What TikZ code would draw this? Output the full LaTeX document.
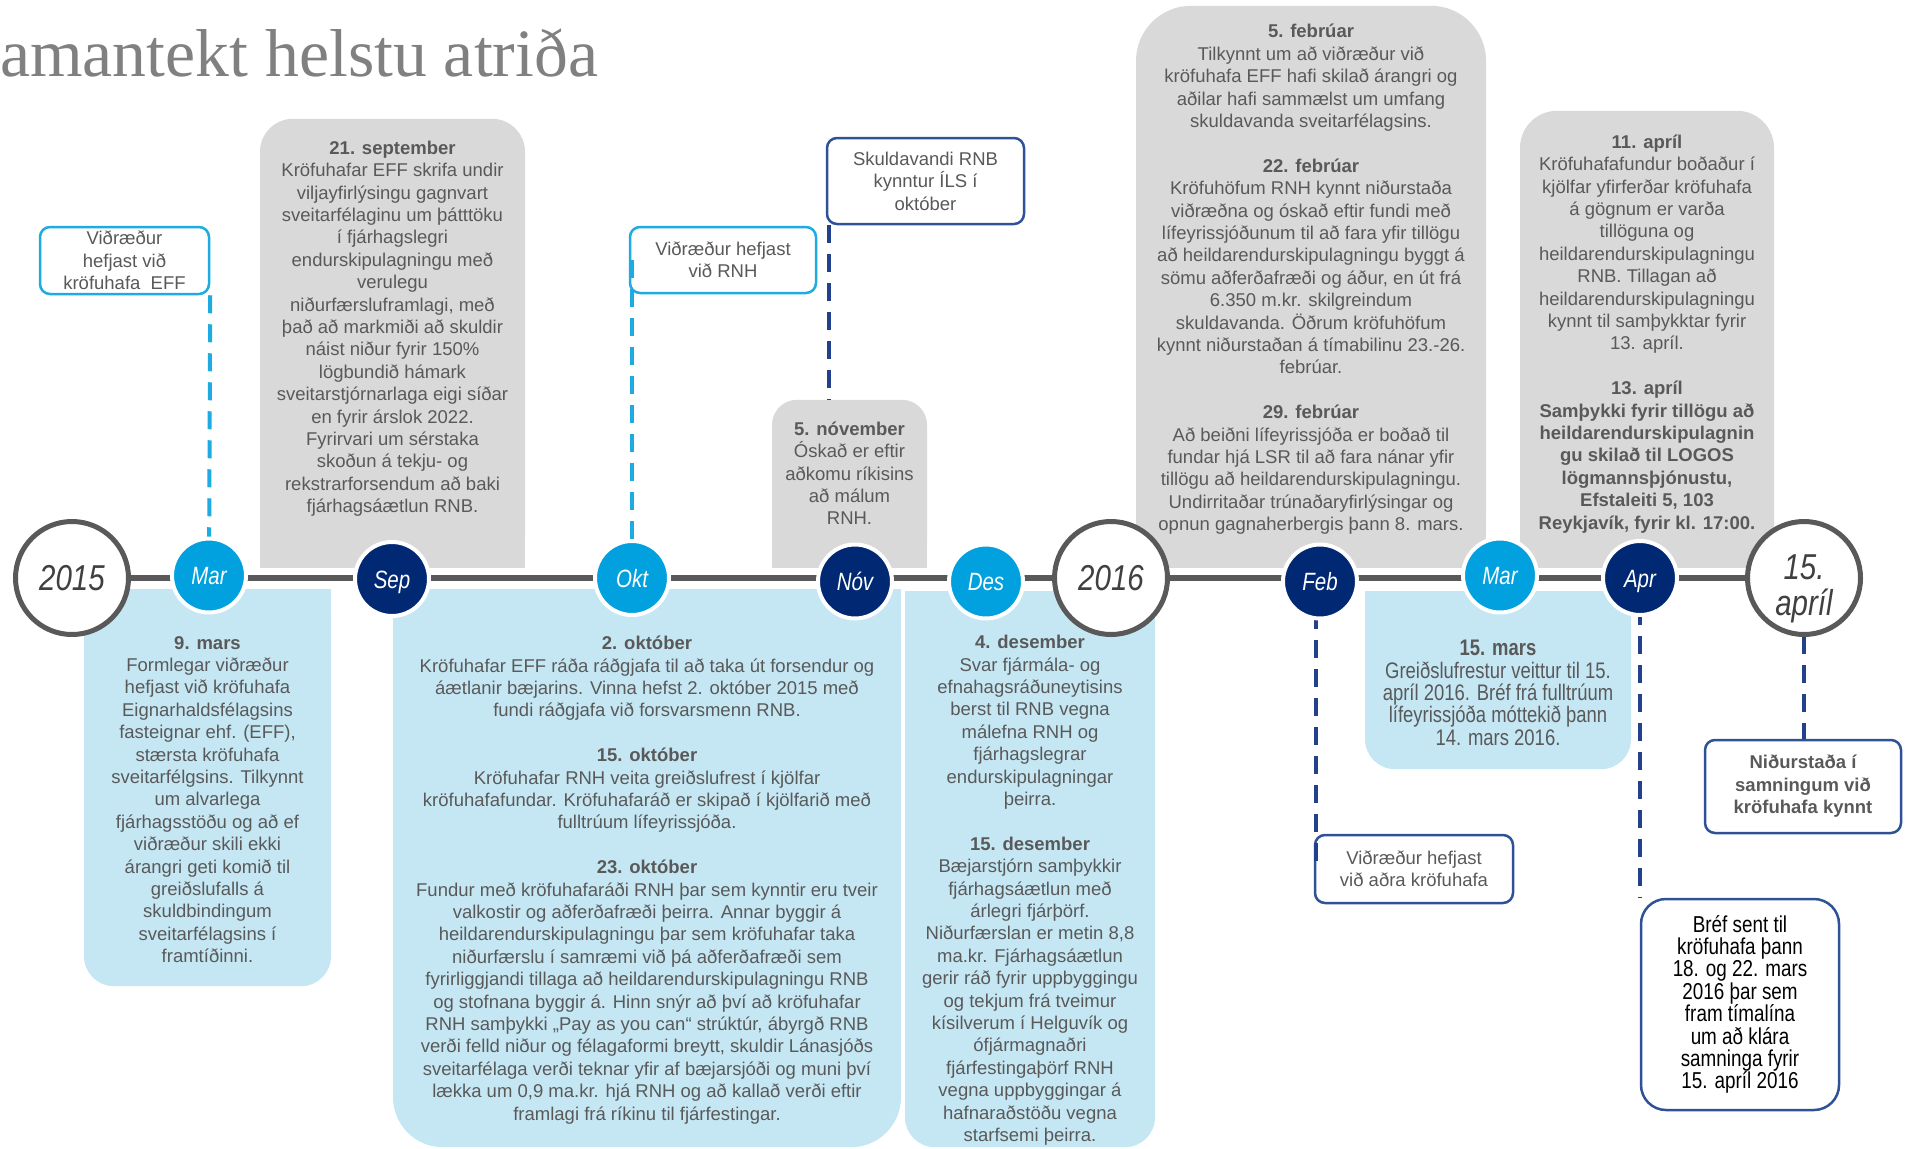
\documentclass[tikz,border=0pt]{standalone}
\usepackage{fontspec}
\setmainfont{Liberation Sans}
\newfontfamily\titlefont{Liberation Serif}
\newfontfamily\narrowfont[FakeStretch=0.82]{Liberation Sans}
\usetikzlibrary{positioning}

\definecolor{lightblue}{RGB}{0,161,222}
\definecolor{navy}{RGB}{0,40,115}
\definecolor{paleblue}{RGB}{197,231,244}
\definecolor{palegrey}{RGB}{217,217,217}
\definecolor{darkgrey}{RGB}{89,89,89}
\definecolor{textgrey}{RGB}{89,89,89}
\definecolor{yeargrey}{RGB}{64,64,64}
\definecolor{titlegrey}{RGB}{128,128,128}
\definecolor{edgeblue}{RGB}{29,171,226}
\definecolor{edgenavy}{RGB}{47,82,150}
\definecolor{navyline}{RGB}{35,64,140}

\begin{document}
\begin{tikzpicture}[x=1pt,y=-1pt,
	body/.style={align=center, inner sep=0pt, text=textgrey, font=\fontsize{18.5}{22.4}\selectfont},
	narrowbody/.style={body, font=\narrowfont\fontsize{22.5}{22.4}\selectfont},
	greypanel/.style={fill=palegrey, inner sep=0pt, anchor=south},
	bluepanel/.style={fill=paleblue, inner sep=0pt, anchor=north},
	callout/.style={fill=white, line width=2.5pt, rounded corners=10pt, inner sep=0pt, align=center, text=textgrey, font=\fontsize{18.5}{22.4}\selectfont},
	bluecallout/.style={callout, draw=edgeblue},
	navycallout/.style={callout, draw=edgenavy},
	bluedash/.style={draw=edgeblue, line width=4pt, dash pattern=on 18pt off 11pt},
	navydash/.style={draw=navyline, line width=4pt, dash pattern=on 18pt off 11pt},
	timeline/.style={draw=darkgrey, line width=6pt},
	month/.style={circle, minimum size=74pt, inner sep=0pt, draw=white, line width=4pt, text=white, text height=18pt, text depth=0pt, font=\narrowfont\itshape\fontsize{25}{25}\selectfont},
	lightmonth/.style={month, fill=lightblue},
	navymonth/.style={month, fill=navy},
	yearmark/.style={circle, minimum size=113pt, inner sep=0pt, draw=darkgrey, line width=5pt, fill=white, text=yeargrey, align=center, font=\narrowfont\itshape\fontsize{36}{35.5}\selectfont}]
	\useasboundingbox (0,0) rectangle (1916,1148);

	% points on the time line
	\coordinate (c2015) at (72,578);
	\coordinate (cmar) at (209,575.5);
	\coordinate (csep) at (392,579);
	\coordinate (cokt) at (632,578);
	\coordinate (cnov) at (855,581.5);
	\coordinate (cdes) at (986,581.5);
	\coordinate (c2016) at (1111,578);
	\coordinate (cfeb) at (1320,581.5);
	\coordinate (cmarch) at (1500,575.5);
	\coordinate (capr) at (1640,578);
	\coordinate (c15apr) at (1804,578);

	\node[anchor=base west, inner sep=0pt, text=titlegrey, font=\titlefont\fontsize{67.7}{67.7}\selectfont] (title) at (0,76) {amantekt helstu atriða};

	% grey panels above the line
	\node[greypanel, minimum width=265pt, minimum height=449pt, rounded corners=33pt] (boxSep) at (392.5,568) {};
	\fill[palegrey] (boxSep.west) rectangle (boxSep.south east);
	\node[body, below=22pt of boxSep.north] (txtSep) {\textbf{21. september}\\
		Kröfuhafar EFF skrifa undir\\
		viljayfirlýsingu gagnvart\\
		sveitarfélaginu um þátttöku\\
		í fjárhagslegri\\
		endurskipulagningu með\\
		verulegu\\
		niðurfærsluframlagi, með\\
		það að markmiði að skuldir\\
		náist niður fyrir 150\%\\
		lögbundið hámark\\
		sveitarstjórnarlaga eigi síðar\\
		en fyrir árslok 2022.\\
		Fyrirvari um sérstaka\\
		skoðun á tekju- og\\
		rekstrarforsendum að baki\\
		fjárhagsáætlun RNB.};

	\node[greypanel, minimum width=155pt, minimum height=168pt, rounded corners=25pt] (boxNov) at (849.5,568) {};
	\fill[palegrey] (boxNov.west) rectangle (boxNov.south east);
	\node[body, below=22pt of boxNov.north] (txtNov) {\textbf{5. nóvember}\\
		Óskað er eftir\\
		aðkomu ríkisins\\
		að málum\\
		RNH.};

	\node[greypanel, minimum width=350pt, minimum height=562pt, rounded corners=55pt] (boxFeb) at (1311,568) {};
	\fill[palegrey] (boxFeb.west) rectangle (boxFeb.south east);
	\node[body, below=18.5pt of boxFeb.north] (txtFeb) {\textbf{5. febrúar}\\
		Tilkynnt um að viðræður við\\
		kröfuhafa EFF hafi skilað árangri og\\
		aðilar hafi sammælst um umfang\\
		skuldavanda sveitarfélagsins.\\[22.4pt]
		\textbf{22. febrúar}\\
		Kröfuhöfum RNH kynnt niðurstaða\\
		viðræðna og óskað eftir fundi með\\
		lífeyrissjóðunum til að fara yfir tillögu\\
		að heildarendurskipulagningu byggt á\\
		sömu aðferðafræði og áður, en út frá\\
		6.350 m.kr. skilgreindum\\
		skuldavanda. Öðrum kröfuhöfum\\
		kynnt niðurstaðan á tímabilinu 23.-26.\\
		febrúar.\\[22.4pt]
		\textbf{29. febrúar}\\
		Að beiðni lífeyrissjóða er boðað til\\
		fundar hjá LSR til að fara nánar yfir\\
		tillögu að heildarendurskipulagningu.\\
		Undirritaðar trúnaðaryfirlýsingar og\\
		opnun gagnaherbergis þann 8. mars.};

	\node[greypanel, minimum width=254pt, minimum height=457pt, rounded corners=37pt] (boxApr) at (1647,568) {};
	\fill[palegrey] (boxApr.west) rectangle (boxApr.south east);
	\node[body, below=24pt of boxApr.north] (txtApr) {\textbf{11. apríl}\\
		Kröfuhafafundur boðaður í\\
		kjölfar yfirferðar kröfuhafa\\
		á gögnum er varða\\
		tillöguna og\\
		heildarendurskipulagningu\\
		RNB. Tillagan að\\
		heildarendurskipulagningu\\
		kynnt til samþykktar fyrir\\
		13. apríl.\\[22.4pt]
		\textbf{13. apríl}\\
		\textbf{Samþykki fyrir tillögu að}\\
		\textbf{heildarendurskipulagnin}\\
		\textbf{gu skilað til LOGOS}\\
		\textbf{lögmannsþjónustu,}\\
		\textbf{Efstaleiti 5, 103}\\
		\textbf{Reykjavík, fyrir kl. 17:00.}};

	% blue panels below the line
	\node[bluepanel, minimum width=247pt, minimum height=397pt, rounded corners=30pt] (boxMars) at (207.5,589) {};
	\fill[paleblue] (boxMars.north west) rectangle (boxMars.east);
	\node[body, below=47pt of boxMars.north] (txtMars) {\textbf{9. mars}\\
		Formlegar viðræður\\
		hefjast við kröfuhafa\\
		Eignarhaldsfélagsins\\
		fasteignar ehf. (EFF),\\
		stærsta kröfuhafa\\
		sveitarfélgsins. Tilkynnt\\
		um alvarlega\\
		fjárhagsstöðu og að ef\\
		viðræður skili ekki\\
		árangri geti komið til\\
		greiðslufalls á\\
		skuldbindingum\\
		sveitarfélagsins í\\
		framtíðinni.};

	\node[bluepanel, minimum width=508pt, minimum height=558pt, rounded corners=50pt] (boxOkt) at (647,589) {};
	\fill[paleblue] (boxOkt.north west) rectangle (boxOkt.east);
	\node[body, below=47pt of boxOkt.north] (txtOkt) {\textbf{2. október}\\
		Kröfuhafar EFF ráða ráðgjafa til að taka út forsendur og\\
		áætlanir bæjarins. Vinna hefst 2. október 2015 með\\
		fundi ráðgjafa við forsvarsmenn RNB.\\[22.4pt]
		\textbf{15. október}\\
		Kröfuhafar RNH veita greiðslufrest í kjölfar\\
		kröfuhafafundar. Kröfuhafaráð er skipað í kjölfarið með\\
		fulltrúum lífeyrissjóða.\\[22.4pt]
		\textbf{23. október}\\
		Fundur með kröfuhafaráði RNH þar sem kynntir eru tveir\\
		valkostir og aðferðafræði þeirra. Annar byggir á\\
		heildarendurskipulagningu þar sem kröfuhafar taka\\
		niðurfærslu í samræmi við þá aðferðafræði sem\\
		fyrirliggjandi tillaga að heildarendurskipulagningu RNB\\
		og stofnana byggir á. Hinn snýr að því að kröfuhafar\\
		RNH samþykki „Pay as you can“ strúktúr, ábyrgð RNB\\
		verði felld niður og félagaformi breytt, skuldir Lánasjóðs\\
		sveitarfélaga verði teknar yfir af bæjarsjóði og muni því\\
		lækka um 0,9 ma.kr. hjá RNH og að kallað verði eftir\\
		framlagi frá ríkinu til fjárfestingar.};

	\node[bluepanel, minimum width=250pt, minimum height=556pt, rounded corners=30pt] (boxDes) at (1030,591) {};
	\fill[paleblue] (boxDes.north west) rectangle (boxDes.east);
	\node[body, below=44pt of boxDes.north] (txtDes) {\textbf{4. desember}\\
		Svar fjármála- og\\
		efnahagsráðuneytisins\\
		berst til RNB vegna\\
		málefna RNH og\\
		fjárhagslegrar\\
		endurskipulagningar\\
		þeirra.\\[22.4pt]
		\textbf{15. desember}\\
		Bæjarstjórn samþykkir\\
		fjárhagsáætlun með\\
		árlegri fjárþörf.\\
		Niðurfærslan er metin 8,8\\
		ma.kr. Fjárhagsáætlun\\
		gerir ráð fyrir uppbyggingu\\
		og tekjum frá tveimur\\
		kísilverum í Helguvík og\\
		ófjármagnaðri\\
		fjárfestingaþörf RNH\\
		vegna uppbyggingar á\\
		hafnaraðstöðu vegna\\
		starfsemi þeirra.};

	\node[bluepanel, minimum width=266pt, minimum height=178pt, rounded corners=30pt] (boxMarch) at (1498,591) {};
	\fill[paleblue] (boxMarch.north west) rectangle (boxMarch.east);
	\node[narrowbody, below=49pt of boxMarch.north] (txtMarch) {\textbf{15. mars}\\
		Greiðslufrestur veittur til 15.\\
		apríl 2016. Bréf frá fulltrúum\\
		lífeyrissjóða móttekið þann\\
		14. mars 2016.};

	% call-outs
	\node[bluecallout, minimum width=169pt, minimum height=67pt] (boxEFF) at (124.5,260.5) {Viðræður\\hefjast við\\kröfuhafa\ \ EFF};
	\node[bluecallout, minimum width=186pt, minimum height=66pt] (boxRNH) at (723,260) {Viðræður hefjast\\við RNH};
	\node[navycallout, minimum width=197pt, minimum height=86pt] (boxILS) at (925.5,181) {Skuldavandi RNB\\kynntur ÍLS í\\október};
	\node[navycallout, minimum width=198pt, minimum height=68pt] (boxOther) at (1414,869) {Viðræður hefjast\\við aðra kröfuhafa};
	\node[navycallout, minimum width=196pt, minimum height=93pt, font=\bfseries\fontsize{18.5}{22.4}\selectfont] (boxNidur) at (1803,786.5) {Niðurstaða í\\samningum við\\kröfuhafa kynnt};
	\node[navycallout, minimum width=198pt, minimum height=211pt, rounded corners=25pt, text=black, font=\narrowfont\fontsize{23}{22.4}\selectfont] (boxBref) at (1740,1004.5) {Bréf sent til\\kröfuhafa þann\\18. og 22. mars\\2016 þar sem\\fram tímalína\\um að klára\\samninga fyrir\\15. apríl 2016};

	\draw[bluedash] (boxEFF.south east) -- (cmar);
	\draw[bluedash] (boxRNH.west -| cokt) -- (cokt);
	\draw[navydash] ([xshift=3pt]boxILS.south west) -- ([xshift=3pt]boxILS.south west |- boxNov.north);
	\draw[navydash] ([xshift=2pt]cfeb -| boxOther.west) -- ([xshift=2pt]boxOther.west);
	\draw[navydash] (capr -| boxBref.north west) -- (boxBref.north west);
	\draw[navydash] (c15apr) -- (c15apr |- boxNidur.north);

	\draw[timeline] (c2015) -- (c15apr);

	\node[yearmark] (y2015) at (c2015) {2015};
	\node[lightmonth] (mar) at (cmar) {Mar};
	\node[navymonth] (sep) at (csep) {Sep};
	\node[lightmonth] (okt) at (cokt) {Okt};
	\node[navymonth] (nov) at (cnov) {Nóv};
	\node[lightmonth] (des) at (cdes) {Des};
	\node[yearmark] (y2016) at (c2016) {2016};
	\node[navymonth] (feb) at (cfeb) {Feb};
	\node[lightmonth] (march) at (cmarch) {Mar};
	\node[navymonth] (apr) at (capr) {Apr};
	\node[yearmark] (y15apr) at (c15apr) {\rule{0pt}{46pt}15.\\apríl};
\end{tikzpicture}
\end{document}
